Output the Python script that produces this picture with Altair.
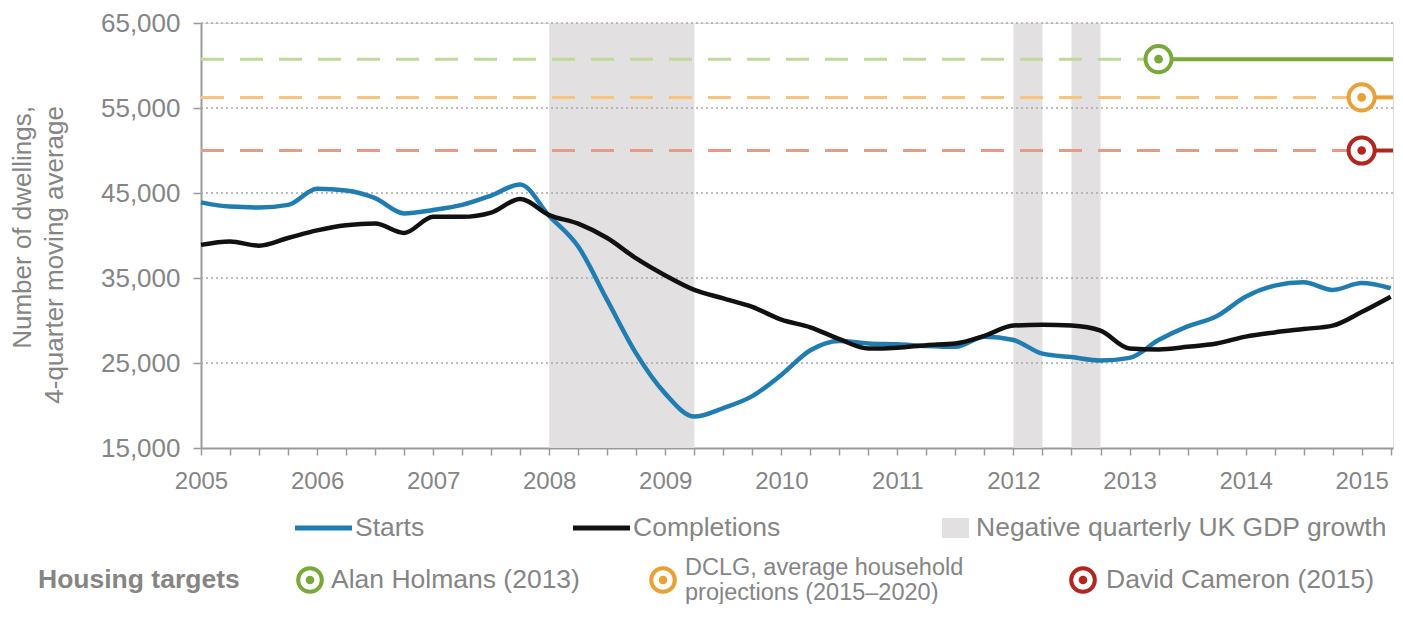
import altair as alt
import pandas as pd

# ---------------- data ----------------
quarters = [2005 + i * 0.25 for i in range(42)]  # 2005 Q1 ... 2015 Q2

starts = [43900, 43400, 43300, 43600, 45500, 45300, 44400, 42600,
          43000, 43600, 44700, 46000, 42300, 38700, 32400, 26100,
          21400, 18700, 19700, 21100, 23600, 26500, 27600, 27300,
          27200, 27000, 26900, 28100, 27700, 26100, 25700, 25300,
          25600, 27700, 29300, 30500, 32800, 34100, 34500, 33600,
          34400, 33800]

completions = [38900, 39300, 38800, 39700, 40600, 41200, 41400, 40300,
               42200, 42200, 42700, 44300, 42400, 41400, 39700, 37300,
               35300, 33600, 32600, 31600, 30100, 29200, 27800, 26700,
               26800, 27100, 27300, 28200, 29400, 29500, 29400, 28800,
               26700, 26600, 26900, 27300, 28100, 28600, 29000, 29400,
               31000, 32800]

gdp_start = [2008.0, 2012.0, 2012.5]
gdp_end = [2009.25, 2012.25, 2012.75]

grid_values = [25000, 35000, 45000, 55000, 65000]
y_ticks = [15000, 25000, 35000, 45000, 55000, 65000]

target_names = ["Alan Holmans (2013)", "DCLG, average household projections (2015–2020)", "David Cameron (2015)"]
target_values = [60750, 56250, 50000]
target_from = [2013.25, 2015.0, 2015.0]
target_solid = ["#79a83b", "#e9a133", "#b3261e"]
target_light = ["#bfd99a", "#f6c47e", "#e79a86"]

X_MIN, X_MAX = 2005, 2015.27
Y_MIN, Y_MAX = 15000, 65000
W, H = 1192, 425
FONT = "Liberation Sans"
GRAY_TXT = "#858585"

# ---------------- tables ----------------
series_df = pd.DataFrame({"x": quarters, "starts": starts, "completions": completions})
bands_df = pd.DataFrame({"start": gdp_start, "end": gdp_end})
grid_df = pd.DataFrame({"v": grid_values})
targets_df = pd.DataFrame({
    "name": target_names, "value": target_values, "from": target_from,
    "solid": target_solid, "light": target_light,
    "x0": [X_MIN] * 3, "x1": [X_MAX] * 3,
})

xs = alt.Scale(domain=[X_MIN, X_MAX], nice=False, zero=False)
ys = alt.Scale(domain=[Y_MIN, Y_MAX], nice=False, zero=False)

xaxis = alt.Axis(
    values=quarters, title=None, grid=False,
    labelExpr="datum.value % 1 == 0 ? '' + datum.value : ''",
    tickSize=7, tickWidth=1.5, tickColor="#9a9a9a",
    domainColor="#9a9a9a", domainWidth=2,
    labelFont=FONT, labelFontSize=24, labelColor=GRAY_TXT,
    labelPadding=14, labelFlush=False,
)
yaxis = alt.Axis(
    values=y_ticks, title=None, grid=False, format=",d",
    tickSize=8, tickWidth=1.5, tickColor="#9a9a9a",
    domainColor="#9a9a9a", domainWidth=2,
    labelFont=FONT, labelFontSize=26, labelColor=GRAY_TXT,
    labelPadding=13,
)

bands = alt.Chart(bands_df).mark_rect(color="#e2e0e0").encode(
    x=alt.X("start:Q", scale=xs, axis=xaxis),
    x2="end:Q",
    y=alt.value(0), y2=alt.value(H),
)

grid = alt.Chart(grid_df).mark_rule(color="#a8a8a8", strokeDash=[2, 3], strokeWidth=1.3).encode(
    y=alt.Y("v:Q", scale=ys, axis=yaxis),
)

t_dashed = alt.Chart(targets_df).mark_rule(strokeDash=[23, 16], strokeWidth=3).encode(
    x=alt.X("x0:Q", scale=xs, axis=xaxis), x2="from:Q",
    y=alt.Y("value:Q", scale=ys, axis=yaxis),
    color=alt.Color("light:N", scale=None),
)
t_solid = alt.Chart(targets_df).mark_rule(strokeWidth=4).encode(
    x=alt.X("from:Q", scale=xs, axis=xaxis), x2="x1:Q",
    y=alt.Y("value:Q", scale=ys, axis=yaxis),
    color=alt.Color("solid:N", scale=None),
)
t_ring = alt.Chart(targets_df).mark_point(shape="circle", filled=False, fill="white", fillOpacity=1,
                                           strokeWidth=4, size=680, opacity=1).encode(
    x=alt.X("from:Q", scale=xs, axis=xaxis),
    y=alt.Y("value:Q", scale=ys, axis=yaxis),
    stroke=alt.Stroke("solid:N", scale=None),
)
t_dot = alt.Chart(targets_df).mark_point(shape="circle", filled=True, size=75, opacity=1).encode(
    x=alt.X("from:Q", scale=xs, axis=xaxis),
    y=alt.Y("value:Q", scale=ys, axis=yaxis),
    color=alt.Color("solid:N", scale=None),
)

line_starts = alt.Chart(series_df).mark_line(color="#1f7db2", strokeWidth=4.5, interpolate="monotone").encode(
    x=alt.X("x:Q", scale=xs, axis=xaxis),
    y=alt.Y("starts:Q", scale=ys, axis=yaxis),
)
line_comp = alt.Chart(series_df).mark_line(color="#111111", strokeWidth=4.5, interpolate="monotone").encode(
    x=alt.X("x:Q", scale=xs, axis=xaxis),
    y=alt.Y("completions:Q", scale=ys, axis=yaxis),
)


# ---------------- legend / titles ----------------
def label(txt, x, y, size=26.5, bold=False, align="left", angle=0, color=GRAY_TXT):
    kw = dict(font=FONT, fontSize=size, color=color, align=align, baseline="middle")
    if bold:
        kw["fontWeight"] = "bold"
    if angle:
        kw["angle"] = angle
    return alt.Chart(pd.DataFrame({"t": [txt]})).mark_text(**kw).encode(
        x=alt.value(x), y=alt.value(y), text="t:N")


def swatch_line(x1, x2, y, color):
    return alt.Chart(pd.DataFrame({"a": [0]})).mark_rule(color=color, strokeWidth=5).encode(
        x=alt.value(x1), x2=alt.value(x2), y=alt.value(y))


def ring(x, y, color):
    r = alt.Chart(pd.DataFrame({"a": [0]})).mark_point(
        shape="circle", filled=False, fill="white", fillOpacity=1, stroke=color,
        strokeWidth=4, size=560, opacity=1).encode(x=alt.value(x), y=alt.value(y))
    d = alt.Chart(pd.DataFrame({"a": [0]})).mark_point(
        shape="circle", filled=True, color=color, size=75, opacity=1).encode(
        x=alt.value(x), y=alt.value(y))
    return r + d


gdp_swatch = alt.Chart(pd.DataFrame({"a": [0]})).mark_rect(color="#e2e0e0").encode(
    x=alt.value(741), x2=alt.value(768), y=alt.value(495), y2=alt.value(515))

row1 = 505
row2 = 557
legend_layers = [
    swatch_line(94, 151, row1, "#1f7db2"), label("Starts", 154, row1),
    swatch_line(372, 429, row1, "#111111"), label("Completions", 432, row1),
    gdp_swatch, label("Negative quarterly UK GDP growth", 775, row1),
    label("Housing targets", -163, row2, size=26.5, bold=True),
    ring(109, row2, target_solid[0]), label("Alan Holmans (2013)", 130, row2),
    ring(462, row2, target_solid[1]),
    label("DCLG, average household", 484, row2 - 12.5, size=23.5),
    label("projections (2015–2020)", 484, row2 + 12.5, size=23.5),
    ring(882, row2, target_solid[2]), label("David Cameron (2015)", 905, row2),
    label("Number of dwellings,", -178, 83, size=26, align="right", angle=270),
    label("4-quarter moving average", -146, 83, size=26, align="right", angle=270),
]

chart = alt.layer(
    bands, grid, t_dashed, t_solid, line_starts, line_comp, t_ring, t_dot,
    *legend_layers,
).properties(
    width=W, height=H,
    autosize=alt.AutoSizeParams(type="none"),
    padding={"left": 193, "top": 15, "right": 2, "bottom": 156},
).configure_view(stroke=None).configure(background="white")

chart.save("out.html", embed_options={"renderer": "svg", "actions": False})
